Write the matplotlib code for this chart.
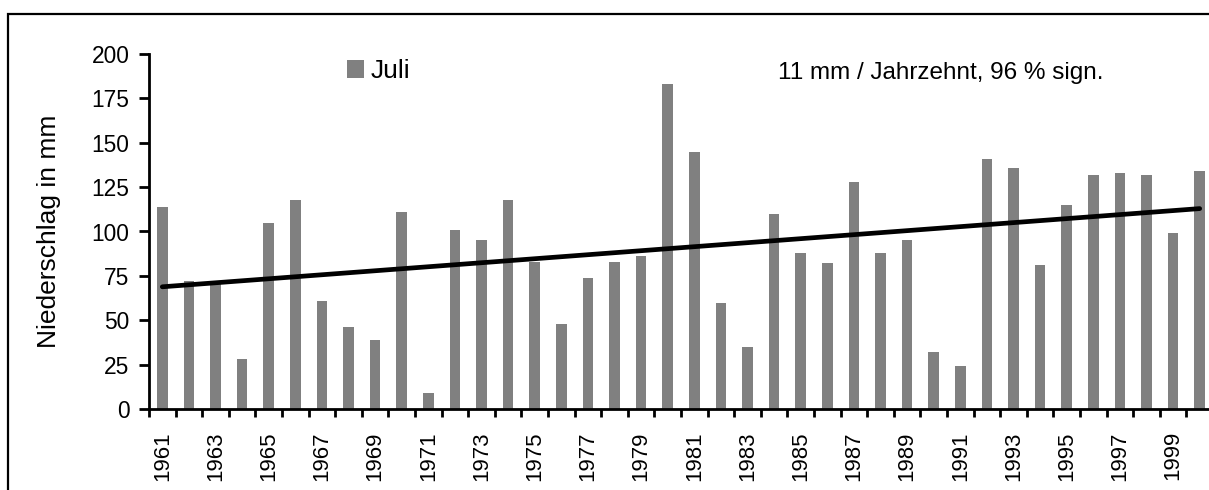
import numpy as np
import matplotlib
matplotlib.use("Agg")
from matplotlib import pyplot as plt
from matplotlib.patches import Rectangle

years = list(range(1961, 2001))
juli = [114, 72, 71, 28, 105, 118, 61, 46, 39, 111,
        9, 101, 95, 118, 83, 48, 74, 83, 86, 183,
        145, 60, 35, 110, 88, 82, 128, 88, 95, 32,
        24, 141, 136, 81, 115, 132, 133, 132, 99, 134]
legend_label = 'Juli'
trend_text = '11 mm / Jahrzehnt, 96 % sign.'

plt.rcParams['font.family'] = ['Liberation Sans', 'DejaVu Sans']

W, H = 1209, 490
fig = plt.figure(figsize=(W / 100, H / 100), dpi=100)
ax = fig.add_axes([149 / W, 1 - 409 / H, (1213 - 149) / W, (409 - 54) / H])

x = np.arange(len(years))
ax.bar(x, juli, width=0.4, color='#808080', label=legend_label, zorder=2)

# linear trend
k, d = np.polyfit(x, juli, 1)
ax.plot(x, k * x + d, color='black', lw=3.4, solid_capstyle='round', zorder=3)

ax.set_xlim(-0.5, len(years) - 0.5)
ax.set_ylim(0, 200)
ax.set_yticks(range(0, 201, 25))
ax.set_xticks(x[::2])
ax.set_xticklabels([str(y) for y in years[::2]], rotation=90, fontsize=16)
ax.set_xticks(np.arange(-0.5, len(years), 1), minor=True)
ax.tick_params(axis='x', which='major', length=0, pad=16)
ax.tick_params(axis='x', which='minor', length=5.5, width=2, direction='out')
ax.tick_params(axis='y', length=7, width=2, labelsize=16.4, pad=7)

for s in ['top', 'right']:
    ax.spines[s].set_visible(False)
for s in ['left', 'bottom']:
    ax.spines[s].set_linewidth(2)

ax.set_ylabel('Niederschlag in mm', fontsize=19, labelpad=22)

ax.legend(loc='upper left', bbox_to_anchor=(347 / W, 1 - 59 / H),
          bbox_transform=fig.transFigure, borderpad=0, borderaxespad=0,
          frameon=False, fontsize=19, handlelength=0.65, handleheight=0.65,
          handletextpad=0.23)
fig.text(778 / W, 1 - 79 / H, trend_text, fontsize=17.5, va='baseline', ha='left')

fig.add_artist(Rectangle((8 / W, -0.1), 1.2, 1.1 - 14 / H, fill=False,
                         lw=1.6, edgecolor='black', transform=fig.transFigure))

fig.savefig('out.png', dpi=100)
